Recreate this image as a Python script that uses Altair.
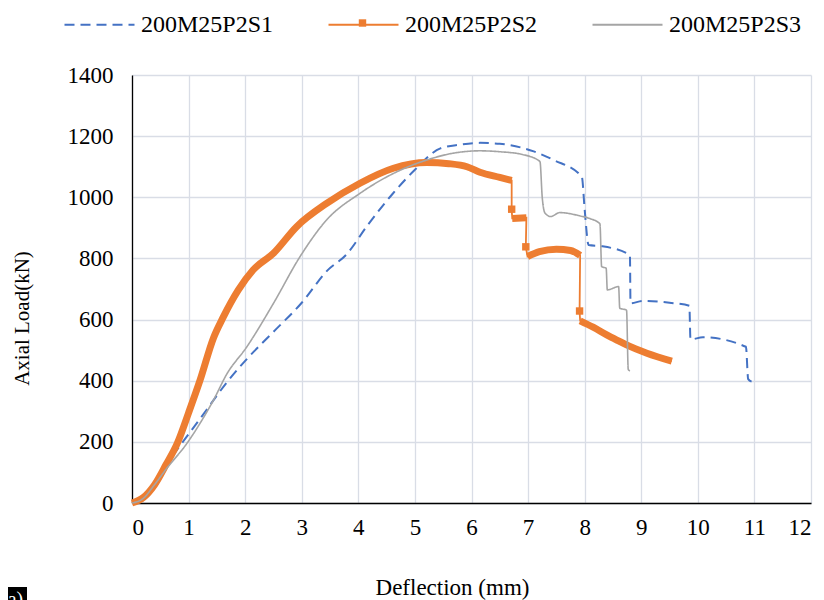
import altair as alt
import pandas as pd

names = ["200M25P2S1", "200M25P2S2", "200M25P2S3"]
colors = ["#4472C4", "#ED7D31", "#A5A5A5"]

# Series 1 (blue dashed)
s1_x = [0.0, 0.15, 0.4, 0.8, 1.2, 1.7, 2.0, 2.5, 3.0, 3.45, 3.8, 4.15, 4.6, 5.0, 5.45, 5.8, 6.15, 6.5,
        7.1, 7.45, 7.95, 8.0, 8.07, 8.3, 8.8, 8.81, 9.03, 9.5, 9.85, 9.87, 10.09, 10.85, 10.89, 10.95]
s1_y = [0, 10, 70, 175, 275, 400, 465, 560, 655, 760, 815, 905, 1010, 1090, 1160, 1172, 1178, 1175,
        1150, 1122, 1067, 960, 844, 840, 811, 653, 661, 655, 645, 535, 542, 511, 405, 397]

# Series 2 (orange, dense markers); seg 0 = isolated marker point
s2_x = [0.0, 0.2, 0.4, 0.6, 0.8, 1.0, 1.2, 1.44, 1.61, 1.88, 2.14, 2.5, 2.91, 3.44, 4.03, 4.62, 5.21,
        5.6, 5.92, 6.15, 6.5, 6.71,
        6.71,
        6.72, 6.97,
        6.96,
        6.99, 7.2, 7.5, 7.75, 7.92,
        7.91,
        7.92, 8.15, 8.39, 8.6, 8.74, 9.1, 9.54]
s2_y = [0, 18, 60, 125, 195, 295, 400, 540, 607, 697, 762, 817, 904, 980, 1046, 1095, 1114,
        1110, 1100, 1082, 1065, 1055,
        961,
        931, 933,
        838,
        806, 822, 830, 826, 810,
        628,
        596, 575, 550, 530, 517, 490, 464]
s2_seg = [1] * 22 + [0] + [2] * 2 + [0] + [3] * 5 + [0] + [4] * 7

# Series 3 (grey)
s3_x = [0.0, 0.2, 0.37, 0.6, 0.97, 1.2, 1.45, 1.67, 2.03, 2.5, 2.97, 3.44, 4.03, 4.62, 5.21, 5.7, 6.15,
        6.5, 6.9, 7.21, 7.25, 7.3, 7.4, 7.56, 7.92, 8.1, 8.27, 8.3, 8.38, 8.4, 8.6, 8.62, 8.74, 8.77, 8.8]
s3_y = [0, 15, 53, 110, 195, 260, 340, 420, 511, 653, 806, 926, 1013, 1078, 1122, 1145, 1152,
        1149, 1140, 1117, 1000, 948, 937, 950, 939, 930, 913, 773, 768, 697, 708, 637, 631, 437, 432]

x_ticks = list(range(0, 13))
y_ticks = list(range(0, 1401, 200))

rows = []
for name, xs, ys, segs in [
    (names[0], s1_x, s1_y, [1] * len(s1_x)),
    (names[1], s2_x, s2_y, s2_seg),
    (names[2], s3_x, s3_y, [1] * len(s3_x)),
]:
    for i, (xv, yv, sg) in enumerate(zip(xs, ys, segs)):
        rows.append({"series": name, "x": xv, "y": yv, "i": i, "seg": sg})
df = pd.DataFrame(rows)

FONT = "Liberation Serif"

x_enc = alt.X("x:Q", scale=alt.Scale(domain=[0, 12], nice=False, zero=False),
              axis=alt.Axis(values=x_ticks, format="d", title="Deflection (mm)",
                            labelFont=FONT, labelFontSize=23, labelPadding=13,
                            titleFont=FONT, titleFontSize=23, titleX=320, titleY=91,
                            titleAlign="center", titleBaseline="alphabetic"))
y_enc = alt.Y("y:Q", scale=alt.Scale(domain=[0, 1400], nice=False),
              axis=alt.Axis(values=y_ticks, format="d", title="Axial Load(kN)",
                            labelFont=FONT, labelFontSize=23, labelPadding=19,
                            titleFont=FONT, titleFontSize=21, titleX=-110, titleY=243,
                            titleAlign="center", titleBaseline="middle"))
legend = alt.Legend(title=None, labelFont=FONT, labelFontSize=24)
color_enc = alt.Color("series:N", scale=alt.Scale(domain=names, range=colors), legend=legend)
dash_enc = alt.StrokeDash("series:N",
                          scale=alt.Scale(domain=names, range=[[10, 6], [1, 0], [1, 0]]),
                          legend=legend)

base = alt.Chart(df)

blue = base.transform_filter(alt.datum.series == names[0]).mark_line(
    strokeWidth=2, interpolate="monotone").encode(
    x=x_enc, y=y_enc, color=color_enc, strokeDash=dash_enc, order="i:Q")
orange_thin = base.transform_filter(alt.datum.series == names[1]).mark_line(strokeWidth=1.8).encode(
    x=x_enc, y=y_enc, color=color_enc, strokeDash=dash_enc, order="i:Q")
orange_thick = base.transform_filter(
    (alt.datum.series == names[1]) & (alt.datum.seg > 0)).mark_line(
    strokeWidth=7, color=colors[1], interpolate="monotone").encode(
    x=x_enc, y=y_enc, detail="seg:N", order="i:Q")
orange_marks = base.transform_filter(
    (alt.datum.series == names[1]) & (alt.datum.seg == 0)).mark_square(
    size=55, opacity=1, color=colors[1]).encode(x=x_enc, y=y_enc)
grey = base.transform_filter(alt.datum.series == names[2]).mark_line(
    strokeWidth=1.6, interpolate="monotone").encode(
    x=x_enc, y=y_enc, color=color_enc, strokeDash=dash_enc, order="i:Q")

dummy = pd.DataFrame({"t": ["(a)"]})
tag_box = alt.Chart(dummy).mark_rect(color="black").encode(
    x=alt.value(-124), x2=alt.value(-105), y=alt.value(512), y2=alt.value(530))
tag_text = alt.Chart(dummy).mark_text(color="white", font=FONT, fontSize=20, align="left",
                                      baseline="alphabetic").encode(
    x=alt.value(-131), y=alt.value(531), text="t:N")
legend_marker = alt.Chart(dummy).mark_square(size=55, opacity=1, color=colors[1]).encode(
    x=alt.value(230.5), y=alt.value(-52))

chart = alt.layer(blue, orange_thin, orange_thick, orange_marks, grey,
                  tag_box, tag_text, legend_marker).properties(
    width=679, height=428,
    autosize=alt.AutoSizeParams(type="none"),
    padding={"left": 124, "top": 67, "right": 5, "bottom": 97},
).configure_view(stroke=None).configure_axis(
    labelFont=FONT, titleFont=FONT, labelColor="black", titleColor="black",
    titleFontWeight="normal", gridColor="#D9DDE6", gridWidth=1.3,
    domainColor="black", domainWidth=1.3, ticks=False,
).configure_legend(
    orient="none", legendX=-69, legendY=-87, direction="horizontal",
    labelFont=FONT, labelFontSize=24, labelColor="black", symbolType="stroke",
    symbolSize=4900, symbolStrokeWidth=2.2, labelOffset=5, columnPadding=50, padding=0,
)

chart.save("out.html", embed_options={"renderer": "svg", "actions": False})
